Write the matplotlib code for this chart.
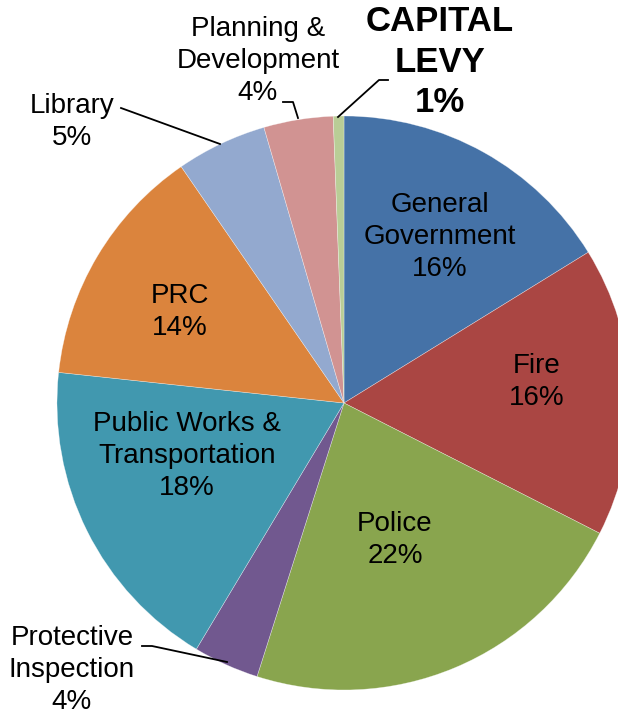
import matplotlib.pyplot as plt

plt.rcParams['font.family'] = ['Liberation Sans', 'DejaVu Sans']

# 各部门占比（从顶部顺时针）
names = ['General Government', 'Fire', 'Police', 'Protective Inspection',
         'Public Works & Transportation', 'PRC', 'Library',
         'Planning & Development', 'CAPITAL LEVY']
shares = [16.2, 16.3, 22.4, 3.7, 18.1, 13.7, 5.1, 3.9, 0.6]
pct_labels = ['16%', '16%', '22%', '4%', '18%', '14%', '5%', '4%', '1%']
colors = ['#4572A7', '#AA4643', '#89A54E', '#71588F', '#4198AF',
          '#DB843D', '#93A9CF', '#D19392', '#B9CD96']

W, H = 618, 716
fig = plt.figure(figsize=(W / 100, H / 100), dpi=100)
ax = fig.add_axes([0, 0, 1, 1])

# 用像素坐标画饼图，y 轴向上
cx, cy, r = 344, H - 403, 287
ax.pie(shares, colors=colors, startangle=90, counterclock=False,
       center=(cx, cy), radius=r,
       wedgeprops=dict(linewidth=0.4, edgecolor=(1, 1, 1, 0.5)))
ax.set_xlim(0, W)
ax.set_ylim(0, H)
ax.axis('off')


def px(x, y):
    return x, H - y


fs = 20
ls = 1.29
# 饼内标签
inside = {
    0: ('General\nGovernment', (440, 237)),
    1: ('Fire', (537, 382)),
    2: ('Police', (395, 540)),
    4: ('Public Works &\nTransportation', (187, 456)),
    5: ('PRC', (180, 312)),
}
for i, (txt, pos) in inside.items():
    ax.text(*px(*pos), txt + '\n' + pct_labels[i], ha='center', va='center',
            fontsize=fs, linespacing=ls, color='black')

# 饼外标签
ax.text(*px(72, 122), 'Library\n' + pct_labels[6], ha='center', va='center',
        fontsize=fs, linespacing=ls)
ax.text(*px(258, 61), 'Planning &\nDevelopment\n' + pct_labels[7],
        ha='center', va='center', fontsize=fs, linespacing=ls)
ax.text(*px(440, 62), 'CAPITAL\nLEVY\n' + pct_labels[8], ha='center',
        va='center', fontsize=25, fontweight='bold', linespacing=1.27)
ax.text(*px(72, 670), 'Protective\nInspection\n' + pct_labels[3],
        ha='center', va='center', fontsize=fs, linespacing=ls)

# 引导线
leaders = [
    [(121, 108), (220, 144)],
    [(283, 102), (293, 102), (298, 118)],
    [(388, 80), (379, 80), (338, 117)],
    [(142, 646), (152, 646), (227, 662)],
]
for pts in leaders:
    xs = [p[0] for p in pts]
    ys = [H - p[1] for p in pts]
    ax.plot(xs, ys, color='black', linewidth=1.3)

fig.savefig('out.png', dpi=100)
